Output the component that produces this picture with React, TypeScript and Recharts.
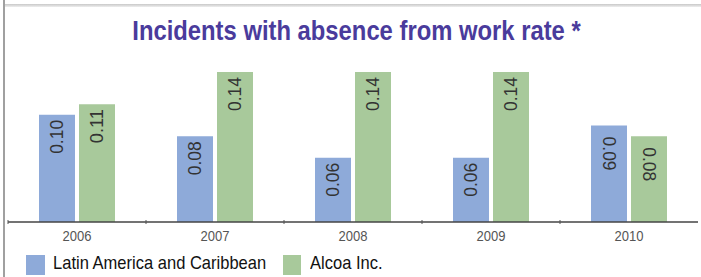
import { BarChart, Bar, XAxis, YAxis, LabelList } from "recharts";

const years = ["2006", "2007", "2008", "2009", "2010"];
const latinAmerica = [0.1, 0.08, 0.06, 0.06, 0.09];
const alcoa = [0.11, 0.14, 0.14, 0.14, 0.08];
// in the source the 2010 labels are turned the other way round
const flippedYears = ["2010"];

const W = 701;
const H = 277;
const M = { top: 72, right: 3, bottom: 35, left: 8 };
const FONT = '"Liberation Sans Narrow", "Arial Narrow", "Liberation Sans", sans-serif';
const BLUE = "#8eaad9";
const GREEN = "#a8c99b";

const data = years.map((y, i) => ({ year: y, latam: latinAmerica[i], alcoa: alcoa[i] }));
const band = (W - M.left - M.right) / years.length;

const BarLabel = (props: any) => {
  const { x, y, width, value, index } = props;
  const flip = flippedYears.includes(years[index]);
  const cx = Number(x) + Number(width) / 2;
  const ty = Number(y) + (flip ? 11 : 5);
  return (
    <text
      x={cx}
      y={ty}
      transform={`rotate(${flip ? 90 : -90} ${cx} ${ty})`}
      textAnchor={flip ? "start" : "end"}
      dominantBaseline="central"
      fill="#333"
      fontSize={18}
      fontFamily={FONT}
      textLength={34}
      lengthAdjust="spacingAndGlyphs"
    >
      {Number(value).toFixed(2)}
    </text>
  );
};

const YearTick = (props: any) => {
  const { x, y, payload } = props;
  return (
    <g>
      <line x1={x - band / 2} x2={x - band / 2} y1={y - 10} y2={y - 6} stroke="#555" />
      <text
        x={x}
        y={y + 11}
        textAnchor="middle"
        fill="#555"
        fontSize={15}
        fontFamily={FONT}
        textLength={29}
        lengthAdjust="spacingAndGlyphs"
      >
        {payload.value}
      </text>
    </g>
  );
};

const legendText = {
  position: "absolute" as const,
  top: 252,
  fontFamily: FONT,
  fontSize: 19,
  color: "#111",
  whiteSpace: "nowrap" as const,
  transform: "scaleX(0.87)",
  transformOrigin: "left center",
};

export default function App() {
  return (
    <div style={{ position: "absolute", left: 0, top: 0, width: W, height: H, background: "#fff", overflow: "hidden" }}>
      <div style={{ position: "absolute", left: 3, top: 0, width: 2, height: H, background: "#a0a0a0" }} />
      <div style={{ position: "absolute", left: 5, top: 4, width: W - 5, height: 3, background: "linear-gradient(#c8c8c8, #eee)" }} />
      <div
        style={{
          position: "absolute",
          left: 6,
          top: 15,
          width: W,
          textAlign: "center",
          color: "#4a3b9c",
          fontFamily: FONT,
          fontWeight: "bold",
          fontSize: 28,
          transform: "scaleX(0.85)",
          transformOrigin: "center center",
        }}
      >
        Incidents with absence from work rate *
      </div>
      <BarChart width={W} height={H} data={data} margin={M} barSize={36} barGap={4} style={{ position: "absolute", left: 0, top: 0 }}>
        <XAxis
          dataKey="year"
          height={20}
          axisLine={{ stroke: "#444", strokeWidth: 1.5 }}
          tickLine={false}
          tick={<YearTick />}
          interval={0}
        />
        <YAxis hide domain={[0, 0.14]} />
        <Bar dataKey="latam" fill={BLUE} isAnimationActive={false}>
          <LabelList dataKey="latam" content={<BarLabel />} />
        </Bar>
        <Bar dataKey="alcoa" fill={GREEN} isAnimationActive={false}>
          <LabelList dataKey="alcoa" content={<BarLabel />} />
        </Bar>
      </BarChart>
      <div style={{ position: "absolute", left: 26, top: 255, width: 19, height: 20, background: BLUE }} />
      <div style={{ ...legendText, left: 53 }}>Latin America and Caribbean</div>
      <div style={{ position: "absolute", left: 283, top: 255, width: 18, height: 20, background: GREEN }} />
      <div style={{ ...legendText, left: 310 }}>Alcoa Inc.</div>
    </div>
  );
}
